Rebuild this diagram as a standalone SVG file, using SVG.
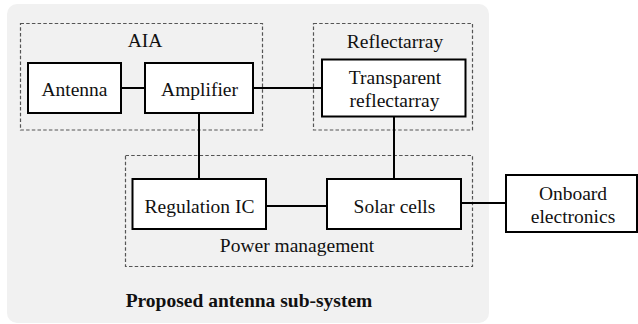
<svg xmlns="http://www.w3.org/2000/svg" width="638" height="324" viewBox="0 0 638 324">
<style>
.bg{fill:#f1f1f1;stroke:none}
.grp{fill:none;stroke:#555;stroke-width:1.2;stroke-dasharray:3.5 2.2}
.box{fill:#fff;stroke:#000;stroke-width:2}
.t{font-family:'Liberation Serif','Times New Roman',serif;font-size:19.5px;fill:#111;text-anchor:middle}
.b{font-weight:bold}
.c{stroke:#000;stroke-width:2;fill:none}
</style>
<rect width="638" height="324" fill="#fff"/>
<g id="subsystem">
<rect class="bg" x="7" y="4" width="482" height="319" rx="10"/>
<text class="t b" x="249" y="307">Proposed antenna sub-system</text>
</g>
<g id="aia-group">
<rect class="grp" x="20.5" y="23.5" width="242" height="106.5"/>
<text class="t" x="145" y="47">AIA</text>
</g>
<g id="reflectarray-group">
<rect class="grp" x="313.5" y="23.5" width="159" height="106.5"/>
<text class="t" x="395" y="47.5">Reflectarray</text>
</g>
<g id="power-group">
<rect class="grp" x="125.5" y="155.5" width="347" height="111"/>
<text class="t" x="297" y="252">Power management</text>
</g>
<g id="connectors">
<line class="c" x1="121" y1="88" x2="145" y2="88"/>
<line class="c" x1="253" y1="88" x2="322" y2="88"/>
<line class="c" x1="199" y1="113" x2="199" y2="179"/>
<line class="c" x1="394" y1="116" x2="394" y2="179"/>
<line class="c" x1="266" y1="206" x2="327" y2="206"/>
<line class="c" x1="461" y1="203" x2="506" y2="203"/>
</g>
<g id="antenna">
<rect class="box" x="28" y="63" width="93" height="50"/>
<text class="t" x="74.5" y="96">Antenna</text>
</g>
<g id="amplifier">
<rect class="box" x="145" y="63" width="108" height="50"/>
<text class="t" x="199.5" y="96">Amplifier</text>
</g>
<g id="transparent-reflectarray">
<rect class="box" x="322" y="59.5" width="143.5" height="57"/>
<text class="t" x="395" y="83.5">Transparent</text>
<text class="t" x="394.5" y="106.5">reflectarray</text>
</g>
<g id="regulation-ic">
<rect class="box" x="132.5" y="179" width="133.5" height="50"/>
<text class="t" x="199.5" y="212.5">Regulation IC</text>
</g>
<g id="solar-cells">
<rect class="box" x="327" y="179" width="134" height="50"/>
<text class="t" x="394.5" y="212.5">Solar cells</text>
</g>
<g id="onboard-electronics">
<rect class="box" x="506" y="175" width="131" height="57"/>
<text class="t" x="573" y="200">Onboard</text>
<text class="t" x="573" y="222.5">electronics</text>
</g>
</svg>
